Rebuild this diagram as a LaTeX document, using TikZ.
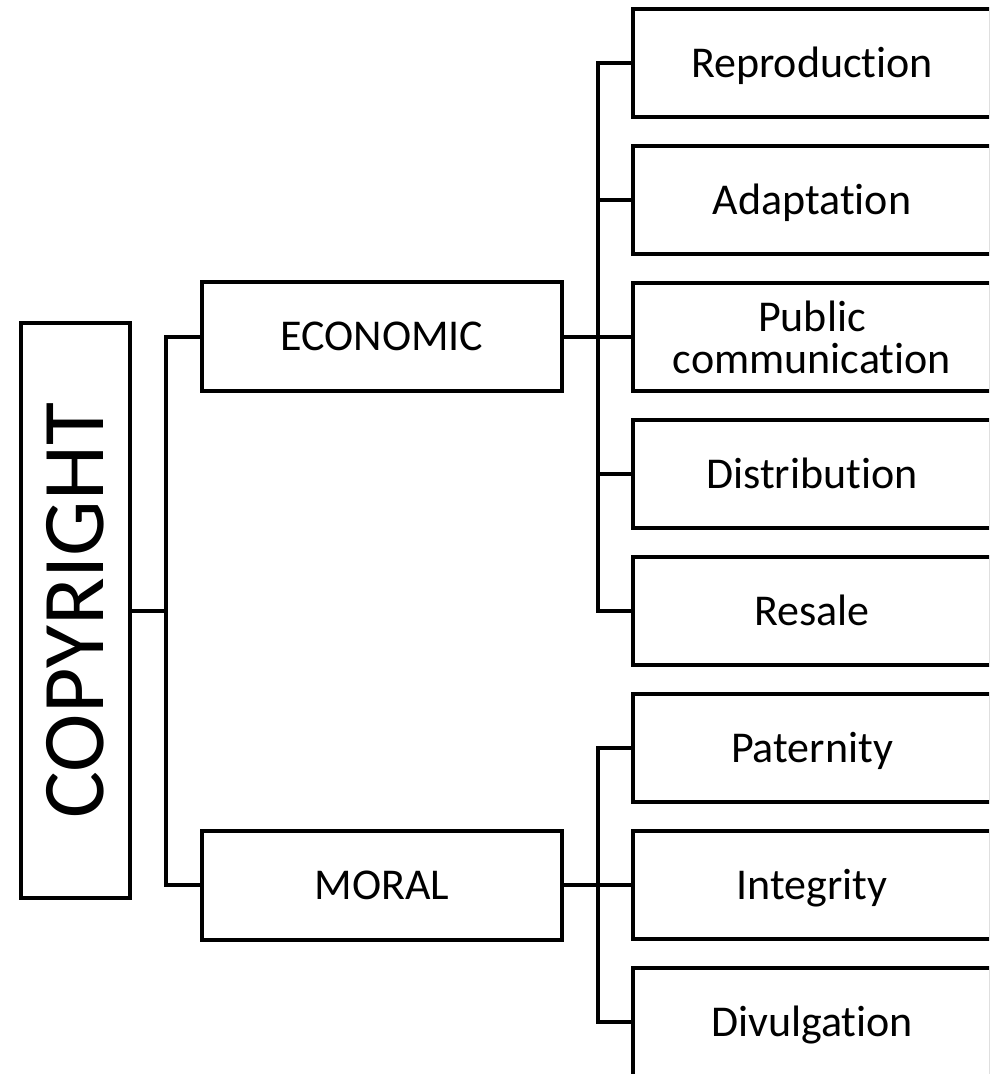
\documentclass[tikz,border=0pt]{standalone}
\usepackage{fontspec}
\setmainfont[Ligatures=NoCommon,RawFeature=-liga]{Carlito}
\begin{document}
\begin{tikzpicture}[x=1pt,y=-1pt,
  every node/.style={inner sep=0pt},
  boxstyle/.style={draw=black,line width=4pt,rectangle,font=\fontsize{44}{42}\selectfont,
    text height=28.3pt,text depth=0pt},
  rightbox/.style={boxstyle,minimum width=358pt,minimum height=108pt},
  midbox/.style={boxstyle,minimum width=360pt,minimum height=109pt},
  conn/.style={line width=4pt,draw=black}]
\useasboundingbox (0,0) rectangle (989,1074);
\clip (0,0) rectangle (989,1074);
% root
\node[draw=black,line width=4pt,minimum width=109pt,minimum height=575pt] (copy) at (75.5,610.5)
  {\rotatebox{90}{\fontsize{88}{88}\selectfont COPYRIGHT}};
% level 1
\node[midbox] (eco) at (382,336.5) {ECONOMIC};
\node[midbox] (mor) at (382,885) {MORAL};
% level 2 economic
\node[rightbox] (r1) at (812,63) {Reproduction};
\node[rightbox] (r2) at (812,200) {Adaptation};
\node[rightbox,text height=,text depth=,align=center] (r3) at (812,337) {Public\\communication};
\node[rightbox] (r4) at (812,474) {Distribution};
\node[rightbox] (r5) at (812,611) {Resale};
% level 2 moral
\node[rightbox] (m1) at (812,748) {Paternity};
\node[rightbox] (m2) at (812,885) {Integrity};
\node[rightbox] (m3) at (812,1022) {Divulgation};
% junctions
\coordinate (j1) at (166,610);
\coordinate (j2) at (598,336.5);
\coordinate (j3) at (598,885);
% connectors
\draw[conn] (copy.east) -- (copy.east -| j1);
\draw[conn] (eco.west) -- (eco.west -| j1) -- (mor.west -| j1) -- (mor.west);
\draw[conn] (eco.east) -- (eco.east -| j2);
\draw[conn] (r1.west) -- (r1.west -| j2) -- (r5.west -| j2) -- (r5.west);
\draw[conn] (r2.west) -- (r2.west -| j2);
\draw[conn] (r3.west) -- (r3.west -| j2);
\draw[conn] (r4.west) -- (r4.west -| j2);
\draw[conn] (mor.east) -- (mor.east -| j3);
\draw[conn] (m1.west) -- (m1.west -| j3) -- (m3.west -| j3) -- (m3.west);
\draw[conn] (m2.west) -- (m2.west -| j3);
\end{tikzpicture}
\end{document}
